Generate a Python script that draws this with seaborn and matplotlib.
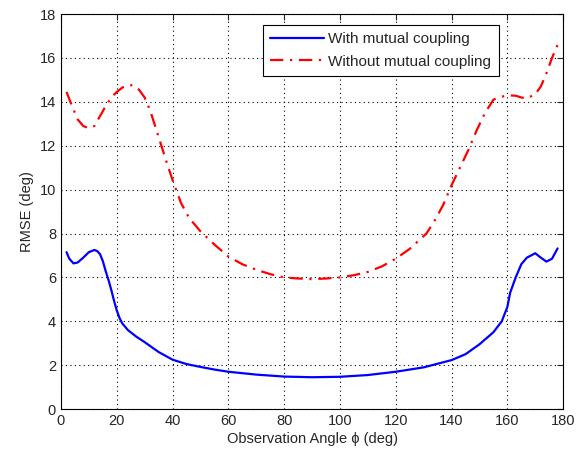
import numpy as np
import pandas as pd
import matplotlib
matplotlib.use("Agg")
import matplotlib.pyplot as plt
import seaborn as sns

# Data
x_with = [2, 3, 4.5, 6, 8, 10, 12, 13, 14, 15, 16, 17, 18, 19, 20, 21, 22, 24, 27, 30, 35, 40, 45,
          50, 55, 60, 70, 80, 90, 100, 110, 120, 130, 140, 145, 150, 155, 158, 160, 161, 163, 165,
          167, 170, 172, 174, 176, 178]
rmse_with = [7.15, 6.85, 6.64, 6.68, 6.9, 7.15, 7.25, 7.2, 7.06, 6.75, 6.3, 5.9, 5.45, 4.95, 4.5,
             4.15, 3.9, 3.6, 3.3, 3.05, 2.6, 2.25, 2.05, 1.92, 1.8, 1.7, 1.57, 1.48, 1.45, 1.47,
             1.55, 1.7, 1.9, 2.23, 2.5, 2.95, 3.5, 4.0, 4.65, 5.3, 6.0, 6.6, 6.9, 7.1, 6.9, 6.72,
             6.85, 7.32]

x_without = [2, 4, 6, 8, 10, 12, 14, 16, 18, 20, 22, 24, 26, 28, 30, 32, 34, 36, 38, 40, 43, 46, 50,
             55, 60, 65, 70, 75, 80, 85, 90, 95, 100, 105, 110, 115, 120, 125, 128, 131, 134, 137,
             140, 143, 146, 149, 152, 155, 157, 160, 163, 165, 167, 170, 172, 174, 176, 178]
rmse_without = [14.45, 13.8, 13.2, 12.9, 12.8, 12.9, 13.35, 13.8, 14.2, 14.45, 14.65, 14.77, 14.75,
                14.55, 14.2, 13.6, 12.8, 12.0, 11.2, 10.44, 9.4, 8.7, 8.1, 7.5, 6.95, 6.6, 6.35,
                6.15, 6.0, 5.95, 5.92, 5.95, 6.0, 6.1, 6.25, 6.5, 6.85, 7.3, 7.65, 8.0, 8.6, 9.3,
                10.2, 11.0, 11.8, 12.7, 13.5, 14.1, 14.2, 14.3, 14.28, 14.2, 14.16, 14.35, 14.7,
                15.3, 16.0, 16.6]

series_labels = ["With mutual coupling", "Without mutual coupling"]
x_ticks = list(range(0, 181, 20))
y_ticks = list(range(0, 19, 2))

sns.set_style("white")
plt.rcParams['font.family'] = ['Liberation Sans', 'DejaVu Sans']

fig = plt.figure(figsize=(5.86, 4.55), dpi=100)
ax = fig.add_axes([0.104, 0.101, 0.857, 0.868])

df1 = pd.DataFrame({"x": x_with, "y": rmse_with})
df2 = pd.DataFrame({"x": x_without, "y": rmse_without})
sns.lineplot(data=df1, x="x", y="y", ax=ax, color=(0, 0, 1), lw=1.6, label=series_labels[0])
sns.lineplot(data=df2, x="x", y="y", ax=ax, color=(1, 0, 0), lw=1.6, linestyle=(0, (6, 3, 1, 3)),
             label=series_labels[1])

ax.set_xlim(0, 180)
ax.set_ylim(0, 18)
ax.set_xticks(x_ticks)
ax.set_yticks(y_ticks)
ax.grid(True, linestyle=(0, (1, 3)), color='black', lw=0.8)
ax.tick_params(direction='in', top=True, right=True, labelsize=10.5, length=4, width=0.8)
for s in ax.spines.values():
    s.set_color('black')
    s.set_linewidth(0.8)
ax.set_xlabel("Observation Angle ϕ (deg)", fontsize=10.5, labelpad=3)
ax.set_ylabel("RMSE (deg)", fontsize=10.5)

leg = ax.legend(loc='upper right', bbox_to_anchor=(0.872, 0.973), fontsize=11, frameon=True,
                fancybox=False, framealpha=1, edgecolor='black', handlelength=3.5,
                handletextpad=0.3, borderpad=0.5, labelspacing=0.55, borderaxespad=0)
leg.get_frame().set_linewidth(0.8)

fig.savefig("out.png", dpi=100, facecolor='white')
